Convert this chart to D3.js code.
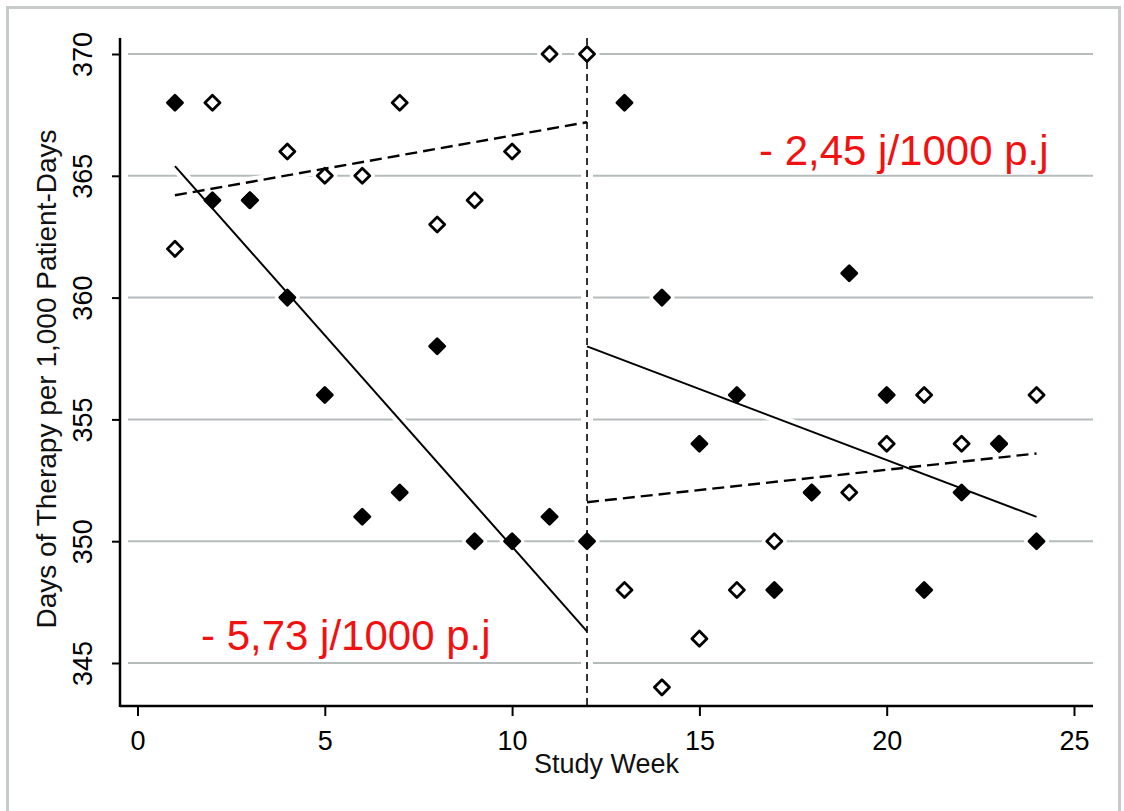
<!DOCTYPE html>
<html>
<head>
<meta charset="utf-8">
<script src="https://cdn.jsdelivr.net/npm/d3@7"></script>
<style>
    html, body { margin: 0; padding: 0; background: #fff; }
    svg { display: block; font-family: "Liberation Sans", Arial, sans-serif; }
</style>
</head>
<body>
<div id="chart"></div>
<script>
// study weeks before / after the intervention
const weeksPre = [1, 2, 3, 4, 5, 6, 7, 8, 9, 10, 11, 12];
const weeksPost = [13, 14, 15, 16, 17, 18, 19, 20, 21, 22, 23, 24];

// filled diamonds
const filledPre = [368, 364, 364, 360, 356, 351, 352, 358, 350, 350, 351, 350];
const filledPost = [368, 360, 354, 356, 348, 352, 361, 356, 348, 352, 354, 350];

// open diamonds
const openPre = [362, 368, 364, 366, 365, 365, 368, 363, 364, 366, 370, 370];
const openPost = [348, 344, 346, 348, 350, 352, 352, 354, 356, 354, 354, 356];

// fitted segments (start week, end week)
const fitWeeksPre = [1, 12];
const fitWeeksPost = [12, 24];
const fitFilledPre = [365.4, 346.3];
const fitFilledPost = [358.0, 351.0];
const fitOpenPre = [364.2, 367.2];
const fitOpenPost = [351.6, 353.6];

const interruptionWeek = 12;

const xTicks = [0, 5, 10, 15, 20, 25];
const yTicks = [345, 350, 355, 360, 365, 370];

const xTitle = "Study Week";
const yTitle = "Days of Therapy per 1,000 Patient-Days";
const notePre = "- 5,73 j/1000 p.j";
const notePost = "- 2,45 j/1000 p.j";

const width = 1124, height = 811;
const svg = d3.select("#chart")
    .append("svg")
    .attr("width", width)
    .attr("height", height)
;

// outer frame
svg.append("rect")
    .attr("x", 7.5).attr("y", 7.5)
    .attr("width", 1112).attr("height", 830)
    .style("fill", "none")
    .style("stroke", "#c8cbcb")
    .style("stroke-width", 3)
;

const x = d3.scaleLinear().domain([0, 25]).range([137.5, 1074]);
const y = d3.scaleLinear().domain([345, 370]).range([663, 54]);

const axisLeftX = 120, axisBottomY = 706, plotTop = 38, plotRight = 1093;

// grid
svg.append("g")
    .selectAll("line")
    .data(yTicks)
    .join("line")
    .attr("x1", 128).attr("x2", plotRight)
    .attr("y1", d => y(d)).attr("y2", d => y(d))
    .style("stroke", "#b4bcbc")
    .style("stroke-width", 2)
;

function pairs(weeks, vals) {
    return weeks.map((w, i) => ({ week: w, value: vals[i] }));
}

const filled = pairs(weeksPre, filledPre).concat(pairs(weeksPost, filledPost));
const open = pairs(weeksPre, openPre).concat(pairs(weeksPost, openPost));

const fits = [
    { pts: pairs(fitWeeksPre, fitFilledPre), dash: null },
    { pts: pairs(fitWeeksPost, fitFilledPost), dash: null },
    { pts: pairs(fitWeeksPre, fitOpenPre), dash: "12,6" },
    { pts: pairs(fitWeeksPost, fitOpenPost), dash: "12,6" },
];

const line = d3.line().x(d => x(d.week)).y(d => y(d.value));
const diamond = d3.symbol().type(d3.symbolDiamond2).size(145);

// white halos that break the grid lines
const halo = svg.append("g").style("stroke", "#fff").style("fill", "#fff");

halo.append("line")
    .attr("x1", x(interruptionWeek)).attr("x2", x(interruptionWeek))
    .attr("y1", plotTop).attr("y2", axisBottomY)
    .style("stroke-width", 12)
;

halo.selectAll("path.fit")
    .data(fits)
    .join("path")
    .attr("class", "fit")
    .attr("d", d => line(d.pts))
    .style("fill", "none")
    .style("stroke-width", 10)
;

halo.selectAll("path.mk")
    .data(filled.concat(open))
    .join("path")
    .attr("class", "mk")
    .attr("d", diamond)
    .attr("transform", d => `translate(${x(d.week)},${y(d.value)})`)
    .style("stroke-width", 10)
    .style("stroke-linejoin", "round")
;

// interruption line
svg.append("line")
    .attr("x1", x(interruptionWeek)).attr("x2", x(interruptionWeek))
    .attr("y1", plotTop).attr("y2", axisBottomY)
    .style("stroke", "#000")
    .style("stroke-width", 1.6)
    .style("stroke-dasharray", "7,5")
;

// fitted lines
svg.append("g")
    .selectAll("path")
    .data(fits)
    .join("path")
    .attr("d", d => line(d.pts))
    .style("fill", "none")
    .style("stroke", "#000")
    .style("stroke-width", d => d.dash ? 2.4 : 2)
    .style("stroke-dasharray", d => d.dash)
;

// markers
svg.append("g")
    .selectAll("path")
    .data(open)
    .join("path")
    .attr("d", diamond)
    .attr("transform", d => `translate(${x(d.week)},${y(d.value)})`)
    .style("fill", "#fff")
    .style("stroke", "#000")
    .style("stroke-width", 2.8)
    .style("stroke-linejoin", "round")
;

svg.append("g")
    .selectAll("path")
    .data(filled)
    .join("path")
    .attr("d", diamond)
    .attr("transform", d => `translate(${x(d.week)},${y(d.value)})`)
    .style("fill", "#000")
    .style("stroke", "#000")
    .style("stroke-width", 2.8)
    .style("stroke-linejoin", "round")
;

// axes
const xAxis = svg.append("g")
    .attr("transform", `translate(0,${axisBottomY})`)
    .call(d3.axisBottom(x).tickValues(xTicks).tickSize(10).tickPadding(15))
;
const yAxis = svg.append("g")
    .attr("transform", `translate(${axisLeftX},0)`)
    .call(d3.axisLeft(y).tickValues(yTicks).tickSize(8))
;

[xAxis, yAxis].forEach(a => {
    a.select(".domain").remove();
    a.selectAll(".tick line").style("stroke", "#000").style("stroke-width", 2);
    a.selectAll(".tick text")
        .style("font-family", "'Liberation Sans', Arial, sans-serif")
        .style("font-size", "27px")
        .style("fill", "#000")
    ;
});

yAxis.selectAll(".tick text")
    .attr("x", null)
    .attr("dy", null)
    .attr("text-anchor", "middle")
    .attr("transform", "translate(-28,0) rotate(-90)")
;

svg.append("line")
    .attr("x1", axisLeftX).attr("x2", axisLeftX)
    .attr("y1", plotTop).attr("y2", axisBottomY + 1)
    .style("stroke", "#000").style("stroke-width", 2.5)
;
svg.append("line")
    .attr("x1", axisLeftX).attr("x2", plotRight)
    .attr("y1", axisBottomY).attr("y2", axisBottomY)
    .style("stroke", "#000").style("stroke-width", 2.5)
;

// titles
svg.append("text")
    .attr("x", (axisLeftX + plotRight) / 2)
    .attr("y", 773)
    .attr("text-anchor", "middle")
    .style("font-size", "27px")
    .style("fill", "#111")
    .text(xTitle)
;

svg.append("text")
    .attr("transform", "translate(56,379) rotate(-90)")
    .attr("text-anchor", "middle")
    .style("font-size", "28px")
    .style("fill", "#111")
    .text(yTitle)
;

// slope notes
svg.append("text")
    .attr("x", 201).attr("y", 650)
    .style("font-size", "42px")
    .style("fill", "#f21111")
    .text(notePre)
;
svg.append("text")
    .attr("x", 759).attr("y", 165)
    .style("font-size", "42px")
    .style("fill", "#f21111")
    .text(notePost)
;
</script>
</body>
</html>
